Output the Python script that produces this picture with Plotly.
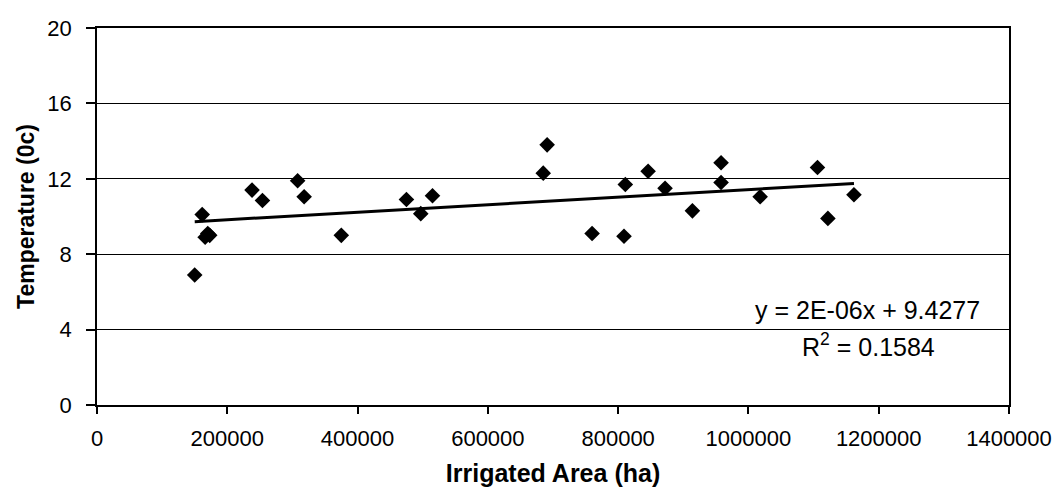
import plotly.graph_objects as go

# Irrigated area (ha) and mean temperature (0c) observations
area_ha = [150000, 161500, 166000, 170000, 173000, 238000, 254000, 308000, 318000,
           375000, 475000, 497000, 515000, 685000, 691000, 760000, 809000, 811000,
           846000, 872000, 914000, 958000, 958000, 1018000, 1106000, 1122000, 1162000]
temperature = [6.9, 10.1, 8.9, 9.1, 9.0, 11.4, 10.85, 11.9, 11.05,
               9.0, 10.9, 10.15, 11.1, 12.3, 13.8, 9.1, 8.95, 11.7,
               12.4, 11.5, 10.3, 12.85, 11.8, 11.05, 12.6, 9.9, 11.15]

# Linear trend coefficients as printed on the chart
slope = 2e-06
intercept = 9.4277
r_squared = 0.1584

x_ticks = [0, 200000, 400000, 600000, 800000, 1000000, 1200000, 1400000]
y_ticks = [0, 4, 8, 12, 16, 20]

trend_x = [min(area_ha), max(area_ha)]
trend_y = [slope * v + intercept for v in trend_x]

fig = go.Figure()
fig.add_trace(go.Scatter(
    x=area_ha, y=temperature, mode="markers",
    marker=dict(symbol="diamond", size=12, color="black"),
    showlegend=False,
))
fig.add_trace(go.Scatter(
    x=trend_x, y=trend_y, mode="lines",
    line=dict(color="black", width=3),
    showlegend=False,
))

font_family = "Liberation Sans, Arial, sans-serif"

fig.update_layout(
    width=1061, height=487,
    margin=dict(l=97, r=52, t=28, b=82),
    paper_bgcolor="white", plot_bgcolor="white",
    font=dict(family=font_family, size=21, color="black"),
    xaxis=dict(
        range=[0, 1400000], tickvals=x_ticks,
        ticktext=[str(v) for v in x_ticks],
        tickfont=dict(size=22),
        showgrid=False, zeroline=False, automargin=False,
        showline=True, linecolor="black", linewidth=1.5, mirror=True,
        ticks="outside", ticklen=7, tickcolor="black", tickwidth=1.5,
        ticklabelstandoff=6,
        title=dict(text="<b>Irrigated Area (ha)</b>", font=dict(size=25)),
    ),
    yaxis=dict(
        range=[0, 20], tickvals=y_ticks,
        tickfont=dict(size=22),
        showgrid=True, gridcolor="black", gridwidth=1.3,
        zeroline=False, automargin=False,
        showline=True, linecolor="black", linewidth=1.5, mirror=True,
        ticks="outside", ticklen=9, tickcolor="black", tickwidth=1.5,
        ticklabelstandoff=10,
        title=dict(text="<b>Temperature (0c)</b>", font=dict(size=23), standoff=6),
    ),
    annotations=[
        dict(x=1358500, y=5.05, xref="x", yref="y", xanchor="right", yanchor="middle",
             text=f"y = 2E-06x + {intercept}", showarrow=False,
             font=dict(size=25, family=font_family)),
        dict(x=1079000, y=3.2, xref="x", yref="y", xanchor="left", yanchor="middle",
             text=f"R<sup>2</sup> = {r_squared}", showarrow=False,
             font=dict(size=25, family=font_family)),
    ],
)

fig.write_html("out.html")
